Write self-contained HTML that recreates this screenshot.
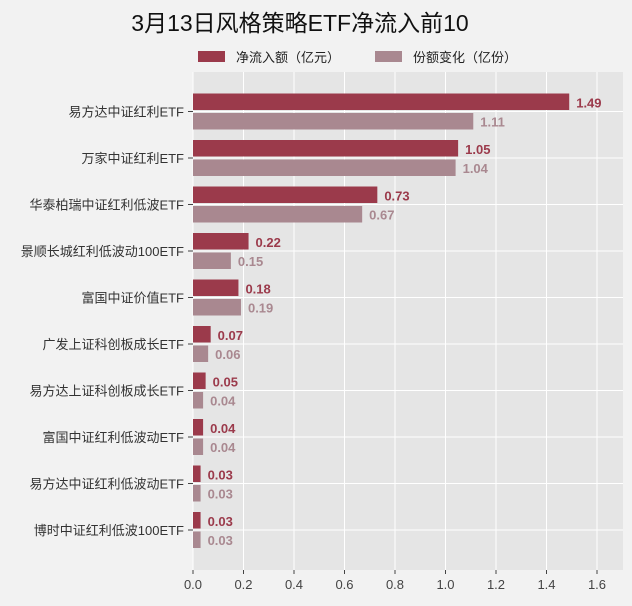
<!DOCTYPE html>
<html><head><meta charset="utf-8"><style>
body{margin:0;background:#f2f2f2;}
svg{display:block;font-family:"Liberation Sans","Noto Sans CJK SC",sans-serif;}
</style></head><body>
<svg id="chart" width="632" height="606" viewBox="0 0 632 606">
<rect width="632" height="606" fill="#f2f2f2"/>
<text x="300" y="31" text-anchor="middle" font-size="23" fill="#111">3月13日风格策略ETF净流入前10</text>
<g>
<g><rect x="198" y="51" width="27" height="11" fill="#9b3a4b"/><text x="236" y="62" font-size="13" fill="#222">净流入额（亿元）</text></g>
<g><rect x="375" y="51" width="27" height="11" fill="#a98890"/><text x="413" y="62" font-size="13" fill="#222">份额变化（亿份）</text></g>
</g>
<rect x="193" y="72" width="430" height="498" fill="#e5e5e5"/>
<g id="grid"></g><g id="bars"></g><g id="axes"></g>
</svg>
<script>
const categories=["易方达中证红利ETF","万家中证红利ETF","华泰柏瑞中证红利低波ETF","景顺长城红利低波动100ETF","富国中证价值ETF","广发上证科创板成长ETF","易方达上证科创板成长ETF","富国中证红利低波动ETF","易方达中证红利低波动ETF","博时中证红利低波100ETF"];
const netInflow=[1.49,1.05,0.73,0.22,0.18,0.07,0.05,0.04,0.03,0.03];
const shareChange=[1.11,1.04,0.67,0.15,0.19,0.06,0.04,0.04,0.03,0.03];
const xTicks=[0,0.2,0.4,0.6,0.8,1.0,1.2,1.4,1.6];
const NS="http://www.w3.org/2000/svg";
const x0=193,pxPer=252.5,plotTop=72,plotBottom=570,band=46.5,firstC=111.5,bh=16.5;
const X=v=>x0+v*pxPer;
const Y=i=>firstC+i*band;
function mk(tag,attrs,parent){const e=document.createElementNS(NS,tag);for(const k in attrs)e.setAttribute(k,attrs[k]);parent.appendChild(e);return e;}
const grid=document.getElementById('grid'),bars=document.getElementById('bars'),axes=document.getElementById('axes');
xTicks.forEach(t=>{
 const l=mk('line',{x1:X(t),x2:X(t),y1:plotTop,y2:plotBottom,stroke:'#fff','stroke-width':1},grid);
 
 
 const tk=mk('line',{x1:X(t),x2:X(t),y1:plotBottom,y2:plotBottom+4,stroke:'#444'},axes);
 
 
 const tx=mk('text',{x:X(t),y:plotBottom+19,'text-anchor':'middle','font-size':13,fill:'#444'},axes);
 tx.textContent=t.toFixed(1);
 
 
});
categories.forEach((c,i)=>{
 const cy=Y(i);
 const g=mk('line',{x1:x0,x2:623,y1:cy,y2:cy,stroke:'#fff'},grid);
 
 
 const tk=mk('line',{x1:x0-5,x2:x0,y1:cy,y2:cy,stroke:'#444'},axes);
 
 
 const lb=mk('text',{x:x0-9,y:cy+5,'text-anchor':'end','font-size':13,fill:'#333'},axes);
 lb.textContent=c;
 
 
 const b1=mk('rect',{x:x0,y:cy-bh-1.5,width:X(netInflow[i])-x0,height:bh,fill:'#9b3a4b'},bars);
 
 
 const b2=mk('rect',{x:x0,y:cy+1.5,width:X(shareChange[i])-x0,height:bh,fill:'#a98890'},bars);
 
 
 const v1=mk('text',{x:X(netInflow[i])+7,y:cy-4,'font-size':13,'font-weight':'bold',fill:'#9b3a4b'},bars);
 v1.textContent=netInflow[i].toFixed(2);
 
 
 const v2=mk('text',{x:X(shareChange[i])+7,y:cy+15,'font-size':13,'font-weight':'bold',fill:'#a98890'},bars);
 v2.textContent=shareChange[i].toFixed(2);
 
 
});
</script>
</body></html>
